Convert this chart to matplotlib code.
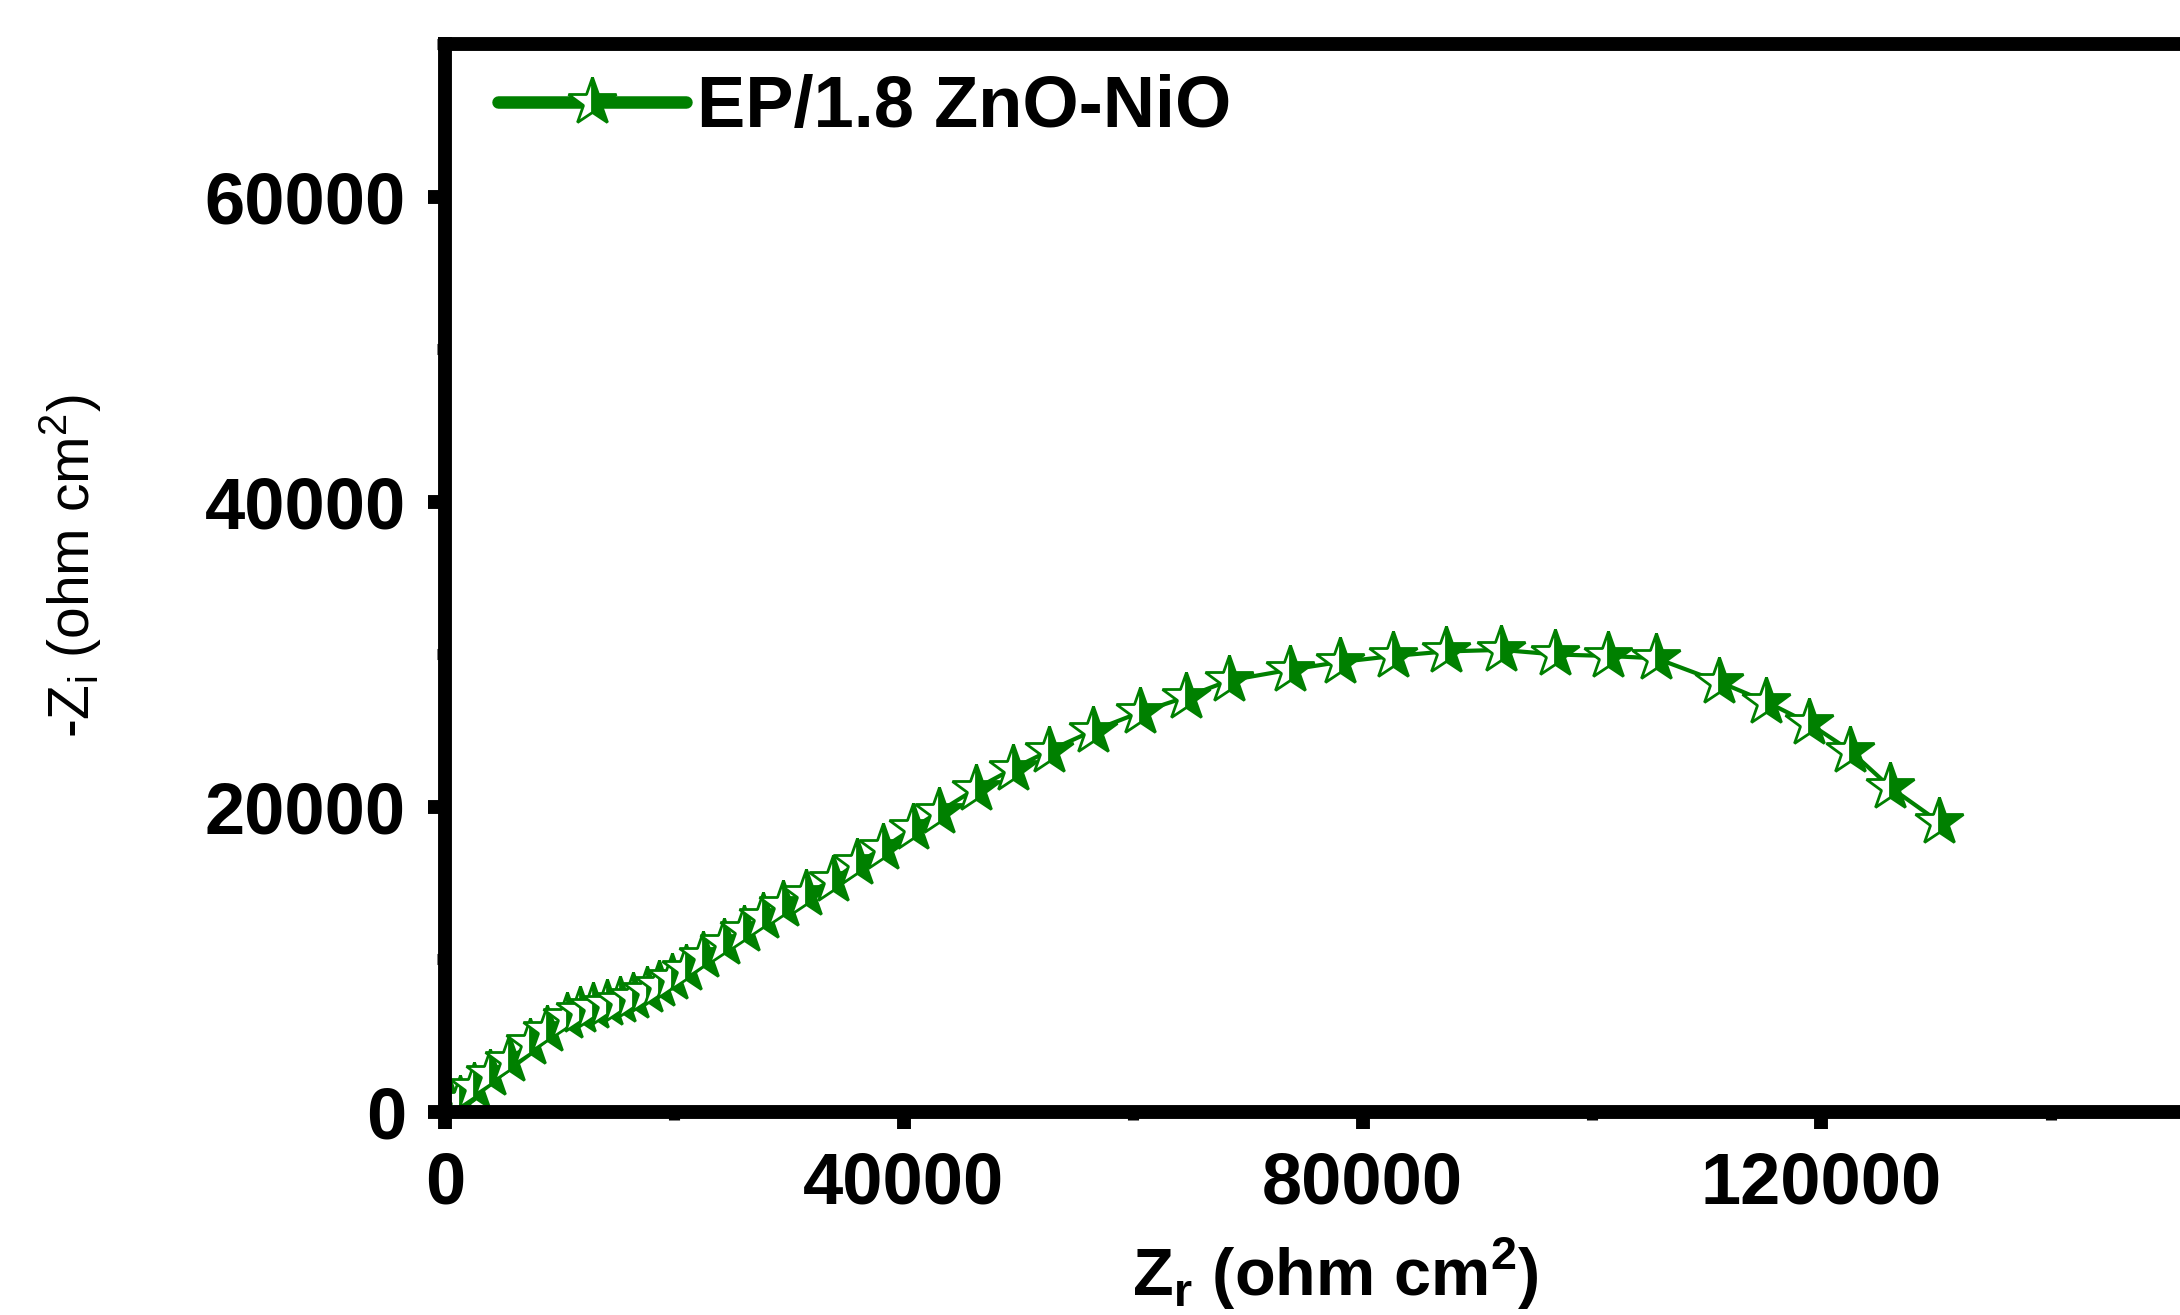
"""
Nyquist plot, EP/1.8 ZnO-NiO coating
"""
import matplotlib
matplotlib.use("Agg")
import matplotlib.pyplot as plt
from matplotlib.ticker import MultipleLocator, FixedLocator

plt.rcParams['font.family'] = ['Liberation Sans', 'DejaVu Sans']
plt.rcParams['mathtext.fontset'] = 'custom'
plt.rcParams['mathtext.rm'] = 'Liberation Sans'
plt.rcParams['mathtext.bf'] = 'Liberation Sans:bold'

#--- data (ohm cm2)
z_real = [500, 1300, 2500, 3900, 5600, 7400, 8900, 10600, 11800, 12900,
          14100, 15300, 16400, 17600, 18700, 19800, 21000, 22500, 24300, 26100,
          27700, 29500, 31500, 33800, 35900, 38200, 40800, 43100, 46300, 49500,
          52700, 56500, 60600, 64600, 68400, 73700, 78000, 82700, 87300, 92100,
          96800, 101400, 105600, 111100, 115200, 118900, 122500, 126000, 130300]
z_imag = [300, 800, 1650, 2500, 3400, 4500, 5350, 6200, 6650, 6900,
          7100, 7300, 7550, 7900, 8300, 8800, 9400, 10200, 11100, 11900,
          12800, 13600, 14300, 15200, 16300, 17300, 18600, 19700, 21200, 22500,
          23700, 25000, 26200, 27200, 28300, 29000, 29500, 29900, 30200, 30300,
          30000, 29900, 29750, 28200, 26900, 25500, 23700, 21300, 19000]
label = "EP/1.8 ZnO-NiO"
x_ticks = [0, 40000, 80000, 120000]
y_ticks = [0, 20000, 40000, 60000]

green = '#008000'

fig = plt.figure(figsize=(21.8, 13.15), dpi=100)
ax = fig.add_axes([0.2041, 0.1544, 0.8418, 0.8118])

ax.plot(z_real, z_imag, color=green, lw=3, marker='*', markersize=36,
        fillstyle='right', markerfacecolor=green, markerfacecoloralt='white',
        markeredgecolor=green, markeredgewidth=2, label=label)

# x axis runs past the right edge of the picture, as in the original
ax.set_xlim(0, 160000)
ax.set_ylim(0, 70000)

for side in ['left', 'bottom', 'top', 'right']:
    ax.spines[side].set_linewidth(10)

ax.xaxis.set_major_locator(FixedLocator(x_ticks))
ax.xaxis.set_minor_locator(MultipleLocator(20000))
ax.yaxis.set_major_locator(FixedLocator(y_ticks))
ax.yaxis.set_minor_locator(MultipleLocator(10000))
ax.tick_params(which='major', direction='out', length=12, width=10,
               labelsize=52, pad=16)
ax.tick_params(which='minor', direction='out', length=6, width=8)
ax.tick_params(top=False, right=False, which='both')
for t in ax.get_xticklabels() + ax.get_yticklabels():
    t.set_fontweight('bold')

ax.set_xlabel(r'Z$_{\mathbf{r}}$ (ohm cm$^{\mathbf{2}}$)', fontsize=48,
              fontweight='bold')
ax.xaxis.set_label_coords(0.485, -0.115)
ax.set_ylabel(r'-Z$_{\mathrm{i}}$ (ohm cm$^{\mathrm{2}}$)', fontsize=41)
ax.yaxis.set_label_coords(-0.186, 0.511)

leg = ax.legend(loc='center left', bbox_to_anchor=(0.029, 0.9405),
                frameon=False, borderpad=0, borderaxespad=0,
                handlelength=2.6, handletextpad=0.15,
                prop={'size': 52, 'weight': 'bold'})
leg.get_lines()[0].set_linewidth(9)
leg.get_lines()[0].set_solid_capstyle('round')

plt.savefig('out.png', dpi=100)
